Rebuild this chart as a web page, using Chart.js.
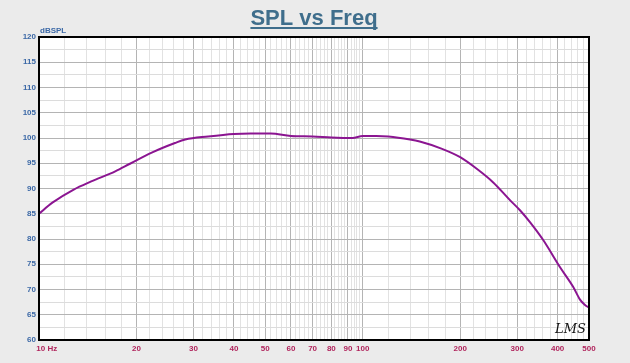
<!DOCTYPE html>
<html>
<head>
<meta charset="utf-8">
<script src="https://cdn.jsdelivr.net/npm/chart.js@4/dist/chart.umd.min.js"></script>
<style>
  html, body { margin: 0; padding: 0; background: #ebebeb; overflow: hidden; }
  canvas { display: block; }
</style>
</head>
<body>
<canvas id="spl" width="630" height="363"></canvas>
<script>
// frequency response
const freqs = [10, 11, 12.8, 14.5, 17.2, 19.1, 22.3, 26.3, 28.3, 33.3, 40, 45, 52, 60, 70, 80, 93, 100, 110, 120, 140, 150, 175, 200, 225, 253, 285, 306, 329, 361, 407, 447, 469, 485, 500]
const spl = [85.0, 87.2, 89.8, 91.4, 93.4, 94.9, 97.1, 99.0, 99.7, 100.3, 100.8, 100.9, 100.9, 100.4, 100.3, 100.1, 100.0, 100.4, 100.4, 100.3, 99.7, 99.3, 97.9, 96.2, 93.9, 91.2, 87.7, 85.7, 83.3, 79.8, 74.4, 70.5, 68.0, 67.0, 66.4]

const xLabels = [10, 20, 30, 40, 50, 60, 70, 80, 90, 100, 200, 300, 400, 500]
const xMinor = [12, 14, 16, 18, 22, 24, 26, 28, 32, 34, 36, 38, 42, 44, 46, 48, 52, 54, 56, 58,
  62, 64, 66, 68, 72, 74, 76, 78, 82, 84, 86, 88, 92, 94, 96, 98,
  120, 140, 160, 180, 220, 240, 260, 280, 320, 340, 360, 380, 420, 440, 460, 480]
const xTicks = xLabels.concat(xMinor).sort((a, b) => a - b)

const frame = {
  id: 'frame',
  beforeDraw(chart) {
    const { ctx, chartArea: a } = chart
    ctx.save()
    ctx.fillStyle = '#ebebeb'
    ctx.fillRect(0, 0, chart.width, chart.height)
    ctx.fillStyle = '#ffffff'
    ctx.fillRect(a.left, a.top, a.right - a.left, a.bottom - a.top)
    ctx.restore()
  },
  afterDraw(chart) {
    const { ctx, chartArea: a } = chart
    ctx.save()
    ctx.strokeStyle = '#000'
    ctx.lineWidth = 2
    ctx.strokeRect(a.left, a.top, a.right - a.left, a.bottom - a.top)

    // title, underlined
    ctx.font = 'bold 22px "Liberation Sans", Arial, sans-serif'
    ctx.fillStyle = '#3f6e8c'
    ctx.textAlign = 'center'
    ctx.textBaseline = 'alphabetic'
    const t = 'SPL vs Freq'
    ctx.fillText(t, 314, 25)
    const w = ctx.measureText(t).width
    ctx.fillRect(314 - w / 2, 27, w, 2)

    ctx.font = 'bold 8px "Liberation Sans", Arial, sans-serif'
    ctx.fillStyle = '#3b68a6'
    ctx.textAlign = 'left'
    ctx.fillText('dBSPL', 40, 33)

    ctx.font = 'italic 13px "DejaVu Serif", serif'
    ctx.fillStyle = '#111'
    ctx.fillText('LMS', 555, 333)
    ctx.restore()
  }
}

new Chart(document.getElementById('spl'), {
  type: 'line',
  data: {
    datasets: [{
      label: 'SPL',
      data: freqs.map((f, i) => ({ x: f, y: spl[i] })),
      borderColor: '#8b1591',
      borderWidth: 2,
      pointRadius: 0,
      cubicInterpolationMode: 'monotone',
    }]
  },
  options: {
    responsive: false,
    animation: false,
    layout: { padding: { top: 37, right: 41, left: 0, bottom: 0 } },
    plugins: { legend: { display: false }, tooltip: { enabled: false } },
    scales: {
      x: {
        type: 'logarithmic',
        min: 10,
        max: 500,
        afterBuildTicks: (scale) => { scale.ticks = xTicks.map(v => ({ value: v })) },
        afterFit: (scale) => { scale.height = 23 },
        border: { display: false },
        grid: {
          drawTicks: false,
          color: (c) => xLabels.includes(c.tick.value) ? '#b4b4b4' : '#e2e2e2',
        },
        ticks: {
          autoSkip: false,
          maxRotation: 0,
          minRotation: 0,
          padding: 4,
          color: '#b0245c',
          font: { family: '"Liberation Sans", Arial, sans-serif', size: 8, weight: 'bold' },
          callback: (v) => v === 10 ? '       10 Hz' : (xLabels.includes(v) ? String(v) : ''),
        }
      },
      y: {
        min: 60,
        max: 120,
        afterFit: (scale) => { scale.width = 39 },
        border: { display: false },
        grid: {
          drawTicks: false,
          color: (c) => c.tick.value % 5 === 0 ? '#b4b4b4' : '#dcdcdc',
        },
        ticks: {
          stepSize: 2.5,
          padding: 3,
          color: '#3b68a6',
          font: { family: '"Liberation Sans", Arial, sans-serif', size: 8, weight: 'bold' },
          callback: (v) => v % 5 === 0 ? String(v) : '',
        }
      }
    }
  },
  plugins: [frame]
})
</script>
</body>
</html>
